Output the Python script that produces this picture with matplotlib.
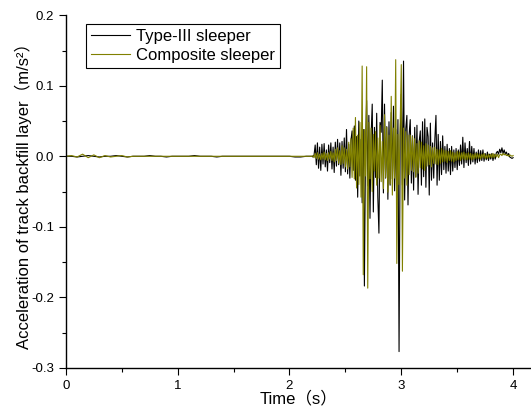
import numpy as np
import matplotlib
matplotlib.use("Agg")
import matplotlib.pyplot as plt
from matplotlib.ticker import MultipleLocator, FormatStrFormatter

# === Dati ===
# tratto iniziale (0 - 2.15 s, passo 0.05 s)
t_pre = np.linspace(0.0, 2.15, 44)
type3_pre = [0.000, 0.000, -0.001, 0.000, 0.001, 0.000, -0.001, 0.000, 0.000, 0.001,
             0.000, -0.001, 0.000, 0.000, 0.000, 0.001, 0.000, 0.000, -0.001, 0.000,
             0.000, 0.000, 0.000, 0.001, 0.000, 0.000, 0.000, -0.001, 0.000, 0.000,
             0.000, 0.000, 0.000, 0.000, 0.000, 0.000, 0.000, 0.000, 0.000, 0.000,
             0.000, -0.001, -0.001, 0.000]
comp_pre = [0.000, 0.001, -0.001, 0.003, -0.002, 0.002, -0.002, 0.001, -0.001, 0.000,
            0.001, -0.001, 0.000, 0.000, 0.000, 0.000, 0.000, 0.000, 0.000, 0.000,
            0.000, 0.000, 0.000, 0.000, 0.000, 0.000, 0.000, 0.000, 0.000, 0.000,
            0.000, 0.000, 0.000, 0.000, 0.000, 0.000, 0.000, 0.000, 0.000, 0.000,
            0.000, 0.000, 0.000, 0.000]

# passaggio del treno (2.20 - 4.00 s, passo 0.01 s)
t_act = np.linspace(2.20, 4.00, 181)
type3_act = [
    0.000, -0.001, 0.002, 0.016, -0.012, 0.019, -0.017, 0.013, -0.020, 0.017,
    -0.011, 0.018, -0.015, 0.009, -0.021, 0.016, -0.009, 0.019, -0.018, 0.013,
    -0.023, 0.020, -0.014, 0.024, -0.012, 0.019, -0.027, 0.021, -0.017, 0.026,
    -0.022, 0.038, -0.025, 0.017, -0.031, 0.023, 0.036, -0.020, 0.043, -0.034,
    0.028, -0.058, 0.050, -0.028, 0.024, -0.066, 0.038, -0.184, 0.012, 0.079,
    -0.042, 0.058, -0.088, 0.029, 0.074, -0.079, 0.041, -0.030, 0.061, -0.058,
    -0.109, 0.048, 0.034, 0.108, -0.052, 0.074, -0.031, 0.042, -0.061, 0.049,
    -0.041, 0.062, -0.032, 0.071, -0.049, 0.038, -0.058, 0.052, -0.277, 0.028,
    0.088, -0.041, 0.135, -0.062, 0.039, 0.058, -0.069, 0.031, 0.052, -0.038,
    0.029, -0.048, 0.041, -0.029, 0.044, -0.054, 0.021, 0.036, -0.041, 0.049,
    -0.029, 0.053, -0.044, 0.041, 0.028, -0.055, 0.047, -0.034, 0.019, -0.031,
    0.024, 0.058, -0.041, 0.031, -0.034, 0.021, -0.026, 0.029, -0.019, 0.014,
    -0.024, 0.017, -0.021, 0.011, -0.026, 0.014, -0.021, 0.009, -0.016, 0.011,
    -0.019, 0.009, -0.013, 0.016, -0.011, 0.027, -0.016, 0.019, -0.009, 0.011,
    -0.013, 0.021, -0.011, 0.014, -0.008, 0.011, -0.011, 0.006, -0.009, 0.009,
    -0.007, 0.008, -0.006, 0.009, -0.007, 0.004, -0.005, 0.006, -0.006, 0.003,
    -0.004, 0.004, -0.006, 0.003, -0.004, 0.005, 0.007, 0.003, 0.010, 0.005,
    0.012, 0.004, 0.009, 0.003, 0.006, 0.001, 0.004, -0.001, -0.002, -0.003,
    -0.002]
comp_act = [
    0.000, 0.001, -0.002, 0.004, -0.003, 0.005, -0.004, 0.003, -0.005, 0.004,
    -0.004, 0.006, -0.005, 0.004, -0.006, 0.005, -0.004, 0.007, -0.006, 0.005,
    -0.008, 0.010, -0.006, 0.012, -0.010, 0.008, -0.012, 0.015, -0.010, 0.012,
    -0.015, 0.010, -0.018, 0.020, -0.015, 0.025, -0.030, 0.040, -0.032, 0.055,
    -0.045, 0.030, -0.040, 0.048, -0.058, 0.128, -0.168, 0.038, -0.028, 0.127,
    -0.187, 0.048, -0.032, 0.040, -0.050, 0.031, -0.021, 0.035, -0.041, 0.026,
    -0.031, 0.044, -0.036, 0.021, -0.046, 0.059, -0.030, 0.041, -0.051, 0.030,
    -0.039, 0.085, -0.055, 0.040, -0.031, 0.137, -0.152, 0.031, -0.040, 0.049,
    0.130, -0.163, 0.040, -0.031, 0.035, -0.041, 0.030, -0.026, 0.030, -0.020,
    0.028, -0.022, 0.025, -0.030, 0.018, -0.024, 0.022, -0.016, 0.020, -0.018,
    0.015, -0.020, 0.018, -0.014, 0.016, -0.012, 0.014, -0.015, 0.012, -0.010,
    0.013, -0.011, 0.010, -0.012, 0.009, -0.010, 0.011, -0.008, 0.009, -0.007,
    0.008, -0.009, 0.007, -0.006, 0.008, -0.007, 0.006, -0.008, 0.005, -0.006,
    0.007, -0.005, 0.006, -0.006, 0.005, -0.004, 0.006, -0.005, 0.004, -0.005,
    0.005, -0.004, 0.004, -0.005, 0.003, -0.004, 0.004, -0.003, 0.004, -0.003,
    0.003, -0.004, 0.003, -0.002, 0.004, -0.003, 0.002, -0.003, 0.003, -0.002,
    0.003, -0.002, 0.004, -0.002, 0.003, -0.001, 0.003, -0.002, 0.002, 0.003,
    0.001, 0.004, 0.002, 0.003, 0.001, 0.002, 0.000, 0.002, 0.001, 0.000,
    0.001]

t = np.concatenate([t_pre, t_act])
type3 = np.concatenate([type3_pre, type3_act])
comp = np.concatenate([comp_pre, comp_act])

font = ["Liberation Sans", "Noto Sans CJK SC"]
plt.rcParams["font.family"] = font

# === Grafico ===
fig = plt.figure(figsize=(5.31, 4.09), dpi=100)
ax = fig.add_axes([0.124, 0.1007, 0.876, 0.862])

ax.plot(t, type3, color="black", lw=0.8, label="Type-III sleeper")
ax.plot(t, comp, color="#808000", lw=0.8, label="Composite sleeper")

ax.set_xlim(0, 4.16)
ax.set_ylim(-0.3, 0.2)
ax.xaxis.set_major_locator(MultipleLocator(1))
ax.xaxis.set_minor_locator(MultipleLocator(0.5))
ax.yaxis.set_major_locator(MultipleLocator(0.1))
ax.yaxis.set_minor_locator(MultipleLocator(0.05))
ax.yaxis.set_major_formatter(FormatStrFormatter("%.1f"))
ax.tick_params(which="major", direction="out", length=5, width=0.8, labelsize=9.5)
ax.tick_params(axis="x", which="major", pad=4)
ax.tick_params(which="minor", direction="out", length=3, width=0.8)

for side in ["top", "right"]:
    ax.spines[side].set_visible(False)
for side in ["left", "bottom"]:
    ax.spines[side].set_linewidth(1.0)

ax.set_xlabel("Time（s）", fontsize=12, labelpad=-1)
ax.set_ylabel("Acceleration of track backfill layer（m/s²）", fontsize=12)
ax.yaxis.set_label_coords(-0.073, 0.5)

leg = ax.legend(loc="upper left", bbox_to_anchor=(0.026, 1.0), fontsize=12,
                fancybox=False, framealpha=1, edgecolor="black",
                handlelength=2.3, borderpad=0.3, labelspacing=0.25, handletextpad=0.4)
leg.get_frame().set_linewidth(0.8)

plt.savefig("out.png", dpi=100)
